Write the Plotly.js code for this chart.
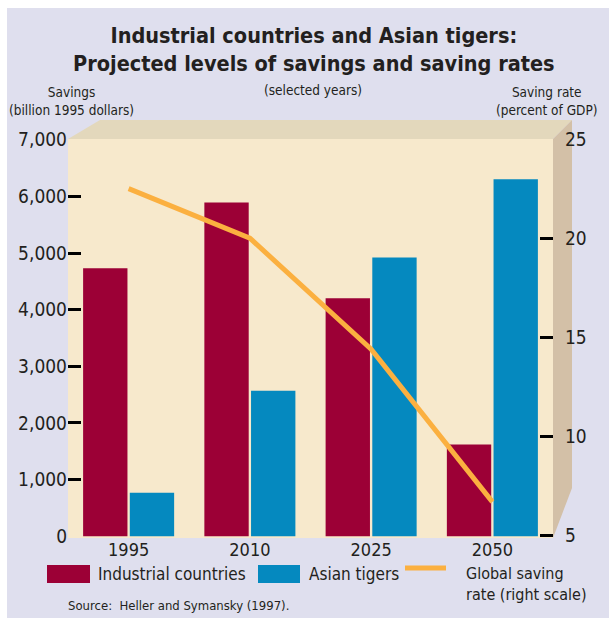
<!DOCTYPE html>
<html>
<head>
<meta charset="utf-8">
<script src="https://cdn.plot.ly/plotly-3.0.1.min.js"></script>
<style>html,body{margin:0;padding:0;background:#fff;}#chart{width:609px;height:618px;}</style>
</head>
<body>
<div id="chart"></div>
<script>
// ---- data ----
var years = ['1995', '2010', '2025', '2050'];
var industrial = [4730, 5890, 4200, 1620];
var asianTigers = [770, 2570, 4920, 6300];
var savingRate = [22.5, 20.0, 14.4, 6.7];
var leftTicks = [0, 1000, 2000, 3000, 4000, 5000, 6000, 7000];
var rightTicks = [5, 10, 15, 20, 25];

var FONT = 'Liberation Sans Narrow, Arial Narrow, DejaVu Sans Condensed, sans-serif';
var TXT = '#231f20';

var traces = [
  {type: 'bar', x: years, y: industrial, name: 'Industrial countries',
   marker: {color: '#9c0036'}, showlegend: false, hoverinfo: 'skip'},
  {type: 'bar', x: years, y: asianTigers, name: 'Asian tigers',
   marker: {color: '#0589bf'}, showlegend: false, hoverinfo: 'skip'},
  {type: 'scatter', mode: 'lines', x: years, y: savingRate, yaxis: 'y2',
   name: 'Global saving rate (right scale)',
   line: {color: '#fbb040', width: 5}, showlegend: false, hoverinfo: 'skip'}
];

// paper coordinate helpers (plot area: x 68..553, y 139..537)
function px(x) { return (x - 68) / 485; }
function py(y) { return (537 - y) / 398; }

var shapes = [
  // lavender panel
  {type: 'rect', xref: 'paper', yref: 'paper', layer: 'below',
   x0: px(7), x1: px(612), y0: py(622), y1: py(8),
   fillcolor: '#dfdfee', line: {width: 0}},
  // top panel
  {type: 'path', xref: 'paper', yref: 'paper', layer: 'below',
   path: 'M ' + px(68) + ' ' + py(139) + ' L ' + px(100) + ' ' + py(120) +
         ' L ' + px(572) + ' ' + py(120) + ' L ' + px(553) + ' ' + py(139) + ' Z',
   fillcolor: '#e3d8bc', line: {width: 0}},
  // side panel
  {type: 'path', xref: 'paper', yref: 'paper', layer: 'below',
   path: 'M ' + px(553) + ' ' + py(139) + ' L ' + px(572) + ' ' + py(120) +
         ' L ' + px(572) + ' ' + py(488) + ' L ' + px(553) + ' ' + py(538) + ' Z',
   fillcolor: '#d3c0a7', line: {width: 0}},
  // front face
  {type: 'rect', xref: 'paper', yref: 'paper', layer: 'below',
   x0: 0, x1: 1, y0: py(538), y1: 1,
   fillcolor: '#f7e9cc', line: {width: 0}},
  // legend swatches
  {type: 'rect', xref: 'paper', yref: 'paper',
   x0: px(47), x1: px(90), y0: py(583), y1: py(565),
   fillcolor: '#9c0036', line: {width: 0}},
  {type: 'rect', xref: 'paper', yref: 'paper',
   x0: px(258), x1: px(300), y0: py(583), y1: py(565),
   fillcolor: '#0589bf', line: {width: 0}},
  {type: 'line', xref: 'paper', yref: 'paper',
   x0: px(405), x1: px(446), y0: py(568), y1: py(568),
   line: {color: '#fbb040', width: 5}}
];

function ann(text, x, y, xanchor, yanchor, size, extra) {
  var a = {text: text, xref: 'paper', yref: 'paper', x: px(x), y: py(y),
           xanchor: xanchor, yanchor: yanchor, showarrow: false,
           font: {family: FONT, size: size, color: TXT}};
  if (extra) for (var k in extra) a[k] = extra[k];
  return a;
}

var annotations = [
  ann('<b>Industrial countries and Asian tigers:<br>Projected levels of savings and saving rates</b>',
      314, 49, 'center', 'middle', 21.5),
  ann('(selected years)', 313, 90, 'center', 'middle', 13.5),
  ann('Savings<br>(billion 1995 dollars)', 71, 101, 'center', 'middle', 13.5),
  ann('Saving rate<br>(percent of GDP)', 546, 101, 'center', 'middle', 13.5),
  ann('Industrial countries', 96, 574, 'left', 'middle', 17),
  ann('Asian tigers', 307, 574, 'left', 'middle', 17),
  ann('Global saving<br>rate (right scale)', 464, 584, 'left', 'middle', 16, {align: 'left'}),
  ann('Source:  Heller and Symansky (1997).', 66, 605, 'left', 'middle', 13)
];

var layout = {
  width: 609, height: 618,
  margin: {l: 68, r: 56, t: 139, b: 81},
  paper_bgcolor: '#ffffff',
  plot_bgcolor: 'rgba(0,0,0,0)',
  font: {family: FONT, color: TXT},
  barmode: 'group',
  bargap: 0.23,
  bargroupgap: 0.05,
  showlegend: false,
  xaxis: {
    type: 'category', showgrid: false, zeroline: false, showline: false,
    ticks: '', tickfont: {family: FONT, size: 18, color: TXT}, fixedrange: true
  },
  yaxis: {
    range: [-12, 7012], tickvals: leftTicks, tickformat: ',d',
    showgrid: false, zeroline: false, showline: false,
    ticks: 'inside', ticklen: 13, tickwidth: 3, tickcolor: '#000',
    tickfont: {family: FONT, size: 19, color: TXT}
  },
  yaxis2: {
    overlaying: 'y', side: 'right', range: [4.93, 25], tickvals: rightTicks,
    showgrid: false, zeroline: false, showline: false,
    ticks: 'inside', ticklen: 13, tickwidth: 3, tickcolor: '#000',
    ticklabelstandoff: 11,
    tickfont: {family: FONT, size: 19, color: TXT}
  },
  shapes: shapes,
  annotations: annotations
};

Plotly.newPlot('chart', traces, layout, {staticPlot: true, displayModeBar: false});
</script>
</body>
</html>
